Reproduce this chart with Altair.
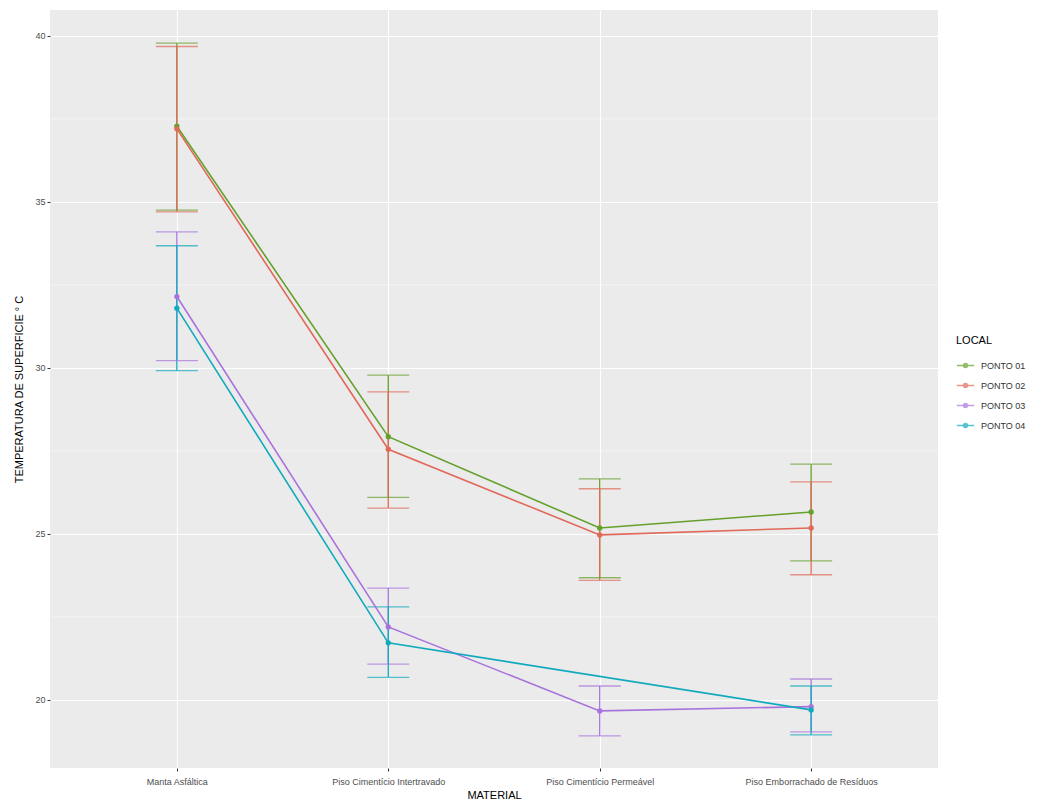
import altair as alt
import pandas as pd

materials = ["Manta Asfáltica", "Piso Cimentício Intertravado",
             "Piso Cimentício Permeável", "Piso Emborrachado de Resíduos"]
locais = ["PONTO 01", "PONTO 02", "PONTO 03", "PONTO 04"]

mean_p01 = [37.28, 27.93, 25.18, 25.66]
mean_p02 = [37.20, 27.55, 24.97, 25.18]
mean_p03 = [32.15, 22.20, 19.67, 19.80]
mean_p04 = [31.80, 21.72, None, 19.70]

lo_p01 = [34.75, 26.10, 23.68, 24.19]
lo_p02 = [34.70, 25.78, 23.60, 23.77]
lo_p03 = [30.22, 21.08, 18.92, 19.04]
lo_p04 = [29.92, 20.68, None, 18.95]

hi_p01 = [39.78, 29.78, 26.66, 27.10]
hi_p02 = [39.68, 29.28, 26.36, 26.57]
hi_p03 = [34.10, 23.37, 20.42, 20.63]
hi_p04 = [33.68, 22.80, None, 20.42]

y_ticks = [20, 25, 30, 35, 40]
y_minor = [22.5, 27.5, 32.5, 37.5]

means = [mean_p01, mean_p02, mean_p03, mean_p04]
los = [lo_p01, lo_p02, lo_p03, lo_p04]
his = [hi_p01, hi_p02, hi_p03, hi_p04]

rows = []
for li, loc in enumerate(locais):
    for mi, mat in enumerate(materials):
        m = means[li][mi]
        if m is None:
            continue
        rows.append({"MATERIAL": mat, "LOCAL": loc, "mean": m,
                     "lo": los[li][mi], "hi": his[li][mi]})
df = pd.DataFrame(rows)
minor_df = pd.DataFrame({"v": y_minor})

colors = ["#65A02A", "#E0695A", "#A873DD", "#11AABD"]
FONT = "Liberation Sans"

xenc = alt.X("MATERIAL:N", sort=materials,
             scale=alt.Scale(type="point", padding=0.6),
             axis=alt.Axis(title="MATERIAL", labelAngle=0, grid=True,
                           gridColor="white", gridWidth=1.1,
                           tickColor="#333333", tickSize=3,
                           labelColor="#4D4D4D", labelFontSize=9,
                           labelPadding=6, titleFontSize=11,
                           titleFontWeight="normal", titleColor="black",
                           titlePadding=3, domain=False, labelFont=FONT,
                           titleFont=FONT))
yscale = alt.Scale(domain=[17.95, 40.78], nice=False, zero=False)
yaxis = alt.Axis(title="TEMPERATURA DE SUPERFICIE ° C", values=y_ticks,
                 grid=True, gridColor="white", gridWidth=1.1,
                 tickColor="#333333", tickSize=3, labelColor="#4D4D4D",
                 labelFontSize=9, labelPadding=2, titleFontSize=11,
                 titleFontWeight="normal", titleColor="black",
                 titlePadding=10, domain=False, labelFont=FONT, titleFont=FONT)

color = alt.Color("LOCAL:N", scale=alt.Scale(domain=locais, range=colors),
                  legend=alt.Legend(
                      title="LOCAL", orient="none", legendX=906, legendY=325,
                      titleFontSize=11, titleFontWeight="normal",
                      titleColor="black", labelFontSize=9,
                      labelColor="#333333", titleFont=FONT, labelFont=FONT,
                      symbolType="M-1,0H1M-0.22,0a0.22,0.22 0 1,0 0.44,0a0.22,0.22 0 1,0 -0.44,0",
                      symbolSize=300, symbolStrokeWidth=1.6, rowPadding=5,
                      titlePadding=10, labelOffset=6))

minor = alt.Chart(minor_df).mark_rule(color="white", strokeWidth=0.5).encode(
    y=alt.Y("v:Q", scale=yscale, axis=yaxis))

base = alt.Chart(df)
err = base.mark_rule(strokeWidth=1.3).encode(
    x=xenc, y=alt.Y("lo:Q", scale=yscale, axis=yaxis), y2="hi:Q", color=color)
cap_lo = base.mark_tick(orient="horizontal", size=42, thickness=1.3).encode(
    x=xenc, y=alt.Y("lo:Q", scale=yscale, axis=yaxis), color=color)
cap_hi = base.mark_tick(orient="horizontal", size=42, thickness=1.3).encode(
    x=xenc, y=alt.Y("hi:Q", scale=yscale, axis=yaxis), color=color)
line = base.mark_line(strokeWidth=1.6).encode(
    x=xenc, y=alt.Y("mean:Q", scale=yscale, axis=yaxis), color=color,
    detail="LOCAL:N")
pts = base.mark_circle(size=28, opacity=1).encode(
    x=xenc, y=alt.Y("mean:Q", scale=yscale, axis=yaxis), color=color)

chart = alt.layer(minor, err, cap_lo, cap_hi, line, pts).properties(
    width=888, height=758, background="white",
    padding={"left": 5, "top": 2, "right": 5, "bottom": 5},
).configure_view(fill="#EBEBEB", strokeWidth=0)

chart.save("out.html", embed_options={"renderer": "svg", "actions": False})
